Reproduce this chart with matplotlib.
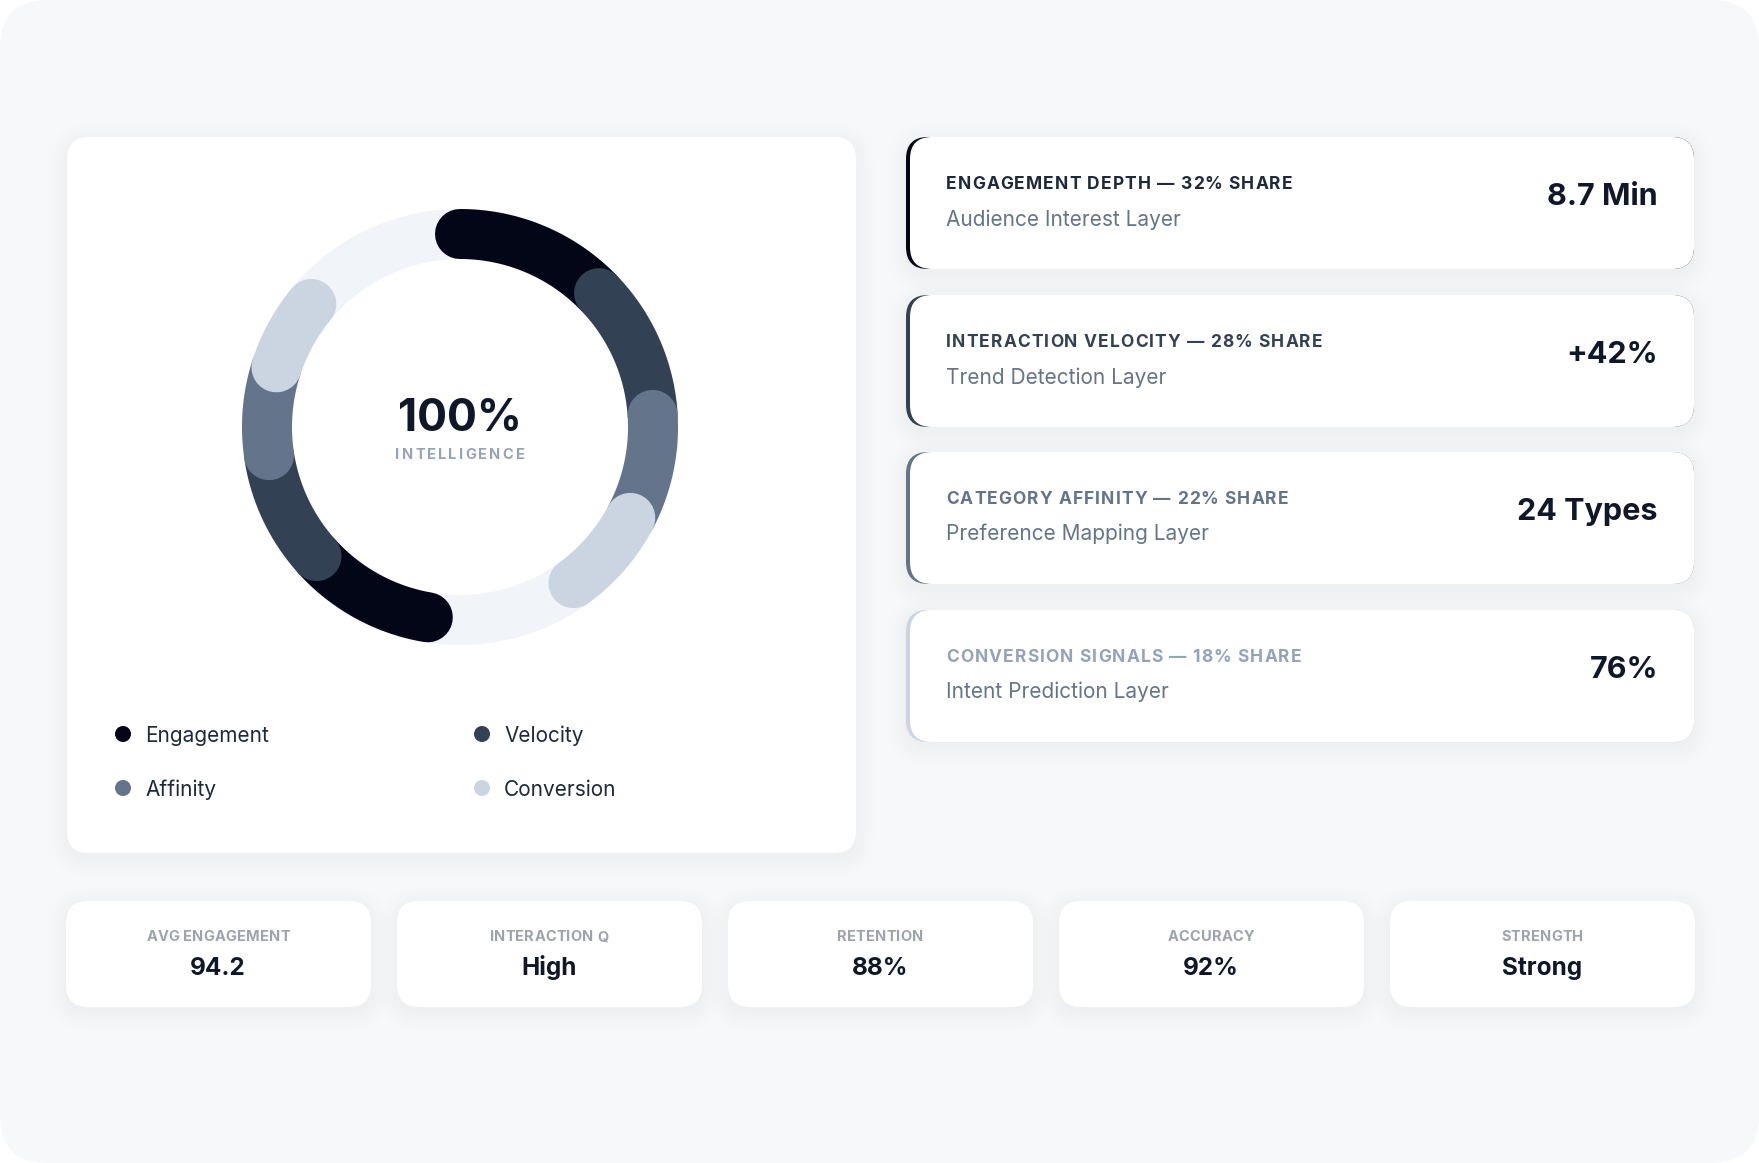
import numpy as np
import matplotlib
matplotlib.use('Agg')
import matplotlib.pyplot as plt
from matplotlib.patches import FancyBboxPatch, Circle
from matplotlib.font_manager import FontProperties
from matplotlib.textpath import TextToPath

W, H, DPI = 1759, 1163, 100
FONT = ['Inter', 'DejaVu Sans']

# ---- data ----
segments = ['Engagement', 'Velocity', 'Affinity', 'Conversion']
shares = [32, 28, 22, 18]
seg_colors = ['#020617', '#334155', '#64748b', '#cbd5e1']

layer_titles = ['ENGAGEMENT DEPTH', 'INTERACTION VELOCITY', 'CATEGORY AFFINITY', 'CONVERSION SIGNALS']
layer_names = ['Audience Interest Layer', 'Trend Detection Layer',
               'Preference Mapping Layer', 'Intent Prediction Layer']
layer_values = ['8.7 Min', '+42%', '24 Types', '76%']
title_colors = ['#1e293b', '#334155', '#64748b', '#94a3b8']

kpi_labels = ['AVG ENGAGEMENT', 'INTERACTION Q', 'RETENTION', 'ACCURACY', 'STRENGTH']
kpi_values = ['94.2', 'High', '88%', '92%', 'Strong']

center_value = '100%'
center_label = 'INTELLIGENCE'

# ring is drawn twice around the circle: (start angle, degrees per share unit)
ring_passes = [(90.0, 1.44), (-99.6, 1.20)]

fig = plt.figure(figsize=(W / DPI, H / DPI), dpi=DPI)
fig.patch.set_facecolor('white')
ax = fig.add_axes([0, 0, 1, 1])
ax.set_xlim(0, W)
ax.set_ylim(H, 0)
ax.axis('off')

_t2p = TextToPath()


def px(pt):
    return pt * DPI / 72.0


def txt(x, yc, s, size, color, weight='normal', ha='left', track=0.0):
    """Text centred on cap height at yc, with optional letter spacing (px)."""
    base = yc + 0.36 * px(size)
    if not track:
        ax.text(x, base, s, fontsize=size, color=color, fontweight=weight,
                family=FONT, ha=ha, va='baseline')
        return
    prop = FontProperties(family=FONT, weight=weight, size=size)
    widths = [px(_t2p.get_text_width_height_descent(c, prop, ismath=False)[0]) for c in s]
    total = sum(widths) + track * (len(s) - 1)
    x0 = x - total if ha == 'right' else (x - total / 2 if ha == 'center' else x)
    for c, w in zip(s, widths):
        ax.text(x0, base, c, fontproperties=prop, color=color, ha='left', va='baseline')
        x0 += w + track


def card(x, y, w, h, r=22, fc='white', shadow=True):
    if shadow:
        for i in range(8):
            g = 1 + i * 2.5
            ax.add_patch(FancyBboxPatch((x - g, y - g + 5), w + 2 * g, h + 2 * g,
                                        boxstyle=f'round,pad=0,rounding_size={r + g}',
                                        fc='#1e293b', ec='none', alpha=0.0035))
    ax.add_patch(FancyBboxPatch((x, y), w, h, boxstyle=f'round,pad=0,rounding_size={r}',
                                fc=fc, ec='none'))


# page background
ax.add_patch(FancyBboxPatch((0, 0), W, H, boxstyle='round,pad=0,rounding_size=48',
                            fc='#f7f8fa', ec='none'))

# ---- left donut card ----
card(67, 137, 789, 716)
cx, cy, R = 460, 427, 193
lw = 50 * 72 / DPI
t = np.linspace(0, 2 * np.pi, 400)
ax.plot(cx + R * np.cos(t), cy - R * np.sin(t), color='#f1f4f8', lw=lw)
for start, scale in ring_passes:
    acc = 0.0
    for val, col in zip(shares, seg_colors):
        a0 = np.radians(start - acc * scale)
        a1 = np.radians(start - (acc + val) * scale)
        th = np.linspace(a0, a1, 120)
        ax.plot(cx + R * np.cos(th), cy - R * np.sin(th), color=col, lw=lw,
                solid_capstyle='round')
        acc += val

txt(cx, 415, center_value, 32, '#0f172a', weight='bold', ha='center')
txt(cx, 454, center_label, 10.5, '#94a3b8', weight='bold', ha='center', track=2.2)

leg_pos = [(123, 734), (482, 734), (123, 788), (482, 788)]
for (lx, ly), name, col in zip(leg_pos, segments, seg_colors):
    ax.add_patch(Circle((lx, ly), 8, fc=col, ec='none'))
    txt(lx + 22, ly, name, 15, '#1e293b')

# ---- right layer cards ----
card_tops = [137, 295, 452, 610]
for top, title, share, name, value, col, tcol in zip(card_tops, layer_titles, shares, layer_names,
                                                     layer_values, seg_colors, title_colors):
    x0, w, h = 906, 788, 132
    card(x0, top, w, h, fc=col)
    ax.add_patch(FancyBboxPatch((x0 + 4, top), w - 4, h,
                                boxstyle='round,pad=0,rounding_size=22', fc='white', ec='none'))
    txt(946, top + 46, f'{title} — {share}% SHARE', 12.5, tcol, weight='bold', track=1.1)
    txt(946, top + 81, name, 15, '#64748b')
    txt(1658, top + 57, value, 22, '#0f172a', weight='bold', ha='right')

# ---- bottom KPI cards ----
kpi_x = [66, 397, 728, 1059, 1390]
for kx, lab, val in zip(kpi_x, kpi_labels, kpi_values):
    card(kx, 901, 305, 106)
    txt(kx + 152, 936, lab, 10.5, '#9ca3af', weight='bold', ha='center', track=0.2)
    txt(kx + 152, 966, val, 17.5, '#0f172a', weight='bold', ha='center')

fig.savefig('out.png', dpi=DPI, facecolor='white')
